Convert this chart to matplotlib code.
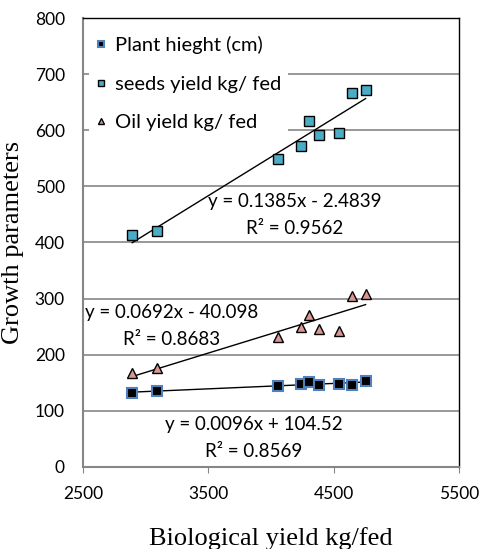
import numpy as np
import matplotlib
matplotlib.use("Agg")
import matplotlib.pyplot as plt

# biological yield (x) shared by all three series
bio_yield = [2893, 3093, 4059, 4240, 4304, 4386, 4541, 4644, 4756]
plant_height = [131.6, 135.7, 143.5, 148.0, 150.6, 146.0, 147.6, 146.5, 152.4]
seeds_yield = [412.5, 421.0, 549.0, 573.0, 616.0, 591.0, 596.0, 667.0, 672.5]
oil_yield = [166.8, 175.7, 232.0, 250.0, 271.0, 246.0, 242.0, 305.0, 308.0]

eq_plant = "y = 0.0096x + 104.52\nR² = 0.8569"
eq_seeds = "y = 0.1385x - 2.4839\nR² = 0.9562"
eq_oil = "y = 0.0692x - 40.098\nR² = 0.8683"

sans = "Lato"
serif = "Liberation Serif"

fig = plt.figure(figsize=(4.82, 5.49), dpi=100)
ax = fig.add_axes([0.172, 0.150, 0.780, 0.8167])

x = np.array(bio_yield)
xs = np.array([x.min(), x.max()])

series = [
    (plant_height, "s", "black", "#4F81BD", 1.5, "Plant hieght (cm)"),
    (seeds_yield, "s", "#4BACC6", "black", 1.0, "seeds yield kg/ fed"),
    (oil_yield, "^", "#D99694", "black", 1.0, "Oil yield kg/ fed"),
]
for ys, mk, fc, ec, mew, lab in series:
    k, b = np.polyfit(x, ys, 1)
    ax.plot(xs, k * xs + b, color="black", lw=1.0, zorder=2)
    ax.plot(x, ys, linestyle="none", marker=mk, ms=6.5, mfc=fc, mec=ec, mew=mew,
            label=lab, zorder=3)

ax.set_xlim(2500, 5500)
ax.set_ylim(0, 800)
ax.set_xticks([2500, 3500, 4500, 5500])
ax.set_yticks(range(0, 801, 100))
ax.yaxis.grid(True, color="#868686", lw=1.2)
ax.set_axisbelow(True)

for s in ["top", "right"]:
    ax.spines[s].set_color("black")
    ax.spines[s].set_linewidth(1.0)
for s in ["left", "bottom"]:
    ax.spines[s].set_color("#868686")
    ax.spines[s].set_linewidth(1.5)
ax.tick_params(axis="both", direction="out", length=4, color="#868686",
               labelsize=12.5)
ax.tick_params(axis="y", length=0, pad=13)
ax.tick_params(axis="x", pad=10)
for t in ax.get_xticklabels() + ax.get_yticklabels():
    t.set_family(sans)

ax.set_xlabel("Biological yield kg/fed", family=serif, fontsize=19, labelpad=18)
ax.set_ylabel("Growth parameters", family=serif, fontsize=19, labelpad=8)

kw = dict(transform=ax.transAxes, ha="center", va="center", family=sans,
          fontsize=13.5, linespacing=1.7)
ax.text(0.564, 0.561, eq_seeds, **kw)
ax.text(0.237, 0.314, eq_oil, **kw)
ax.text(0.455, 0.064, eq_plant, **kw)

leg = ax.legend(loc="upper left", bbox_to_anchor=(0.0, 0.99), frameon=True,
                prop={"family": sans, "size": 14.5}, markerscale=0.75,
                handlelength=0.5, handletextpad=0.45, labelspacing=1.07,
                borderpad=0.35, borderaxespad=0.3)
leg.get_frame().set_facecolor("white")
leg.get_frame().set_edgecolor("none")
leg.get_frame().set_alpha(1.0)

fig.savefig("out.png", dpi=100)
